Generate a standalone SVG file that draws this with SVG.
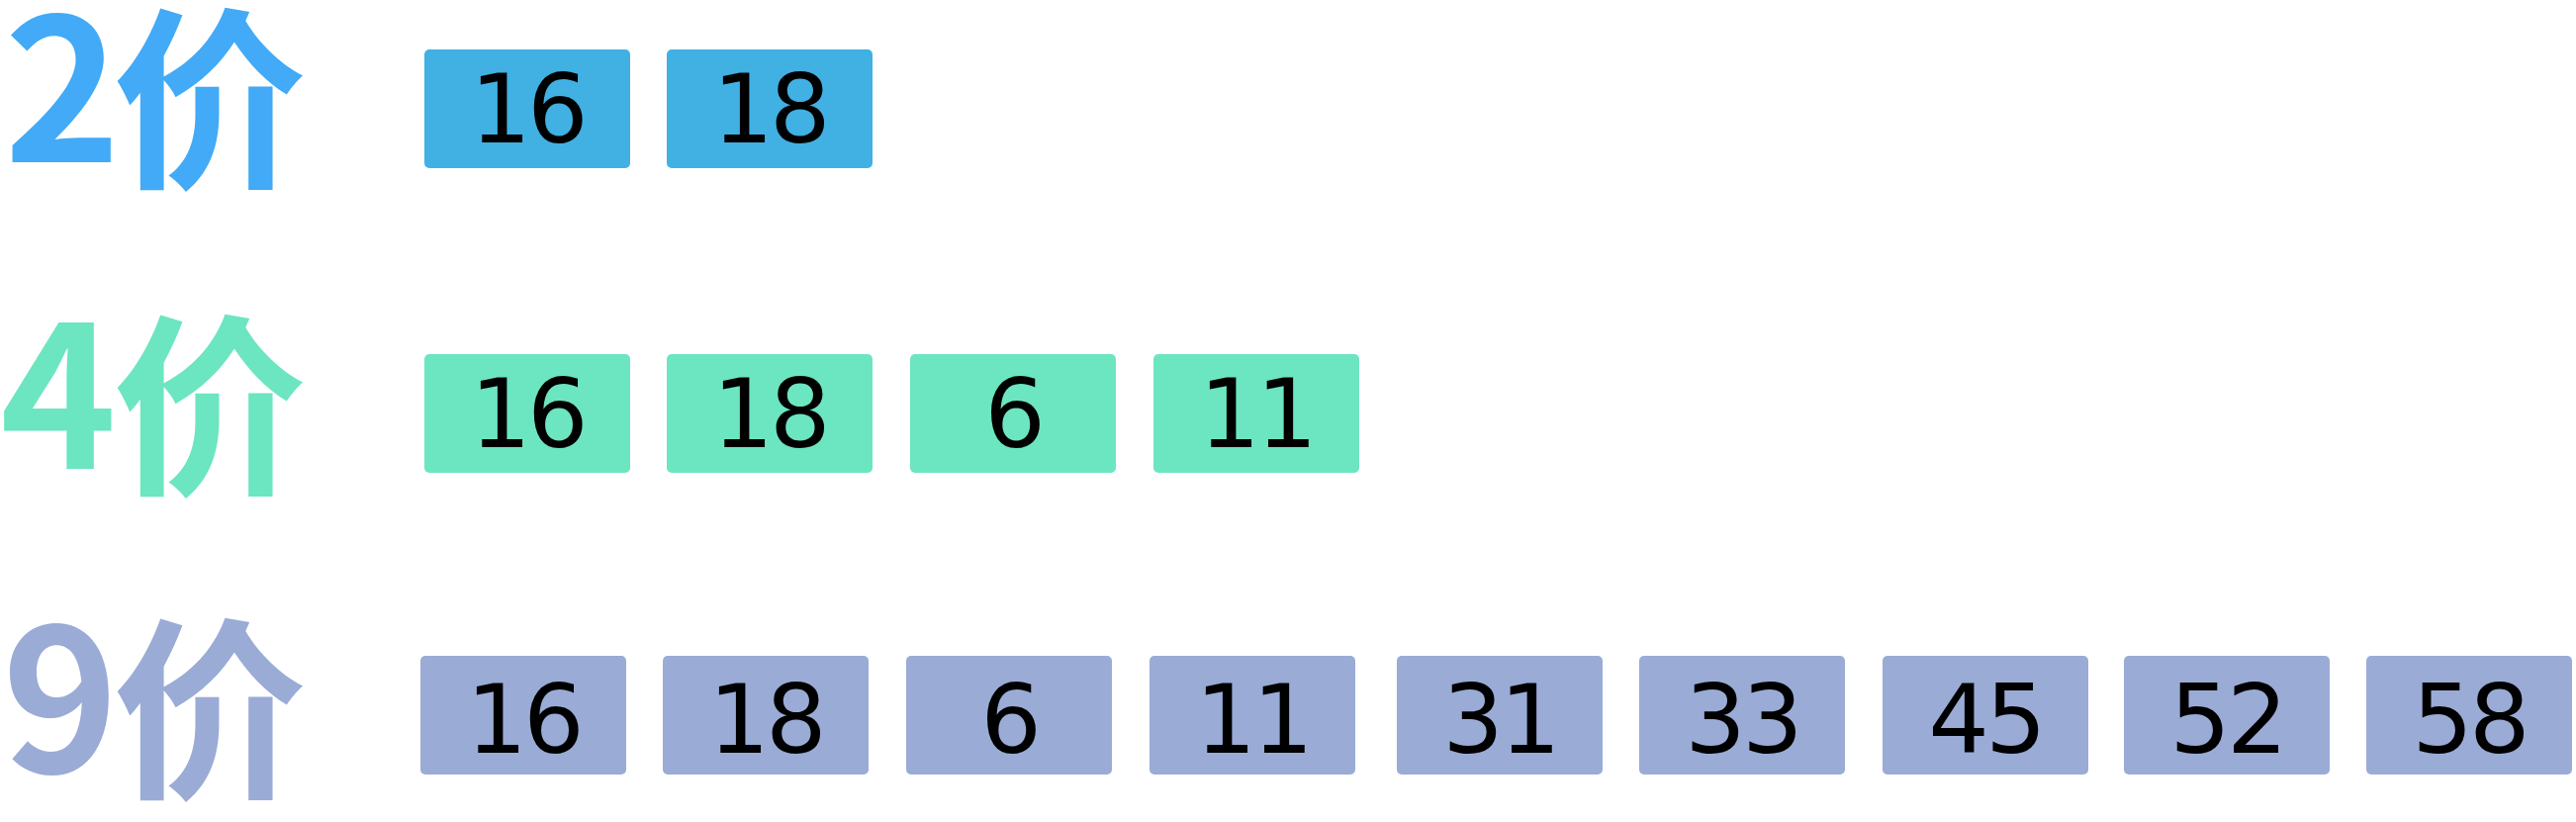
<svg xmlns="http://www.w3.org/2000/svg" width="2604" height="831" viewBox="0 0 2604 831">
<style>
.lbl{font-family:"Noto Sans CJK SC","Microsoft YaHei",sans-serif;font-weight:700;}
.num{font-family:"DejaVu Sans",sans-serif;font-size:97px;fill:#000;text-anchor:middle;letter-spacing:-4px;}
.b1{fill:#41B0E3;}
.b2{fill:#6CE5C1;}
.b3{fill:#9AABD6;}
</style>
<rect width="2604" height="831" fill="#fff"/>
<g id="label-2">
<text class="lbl" fill="#42AAF6"><tspan x="4" y="164" font-size="200">2</tspan><tspan x="114" y="174" font-size="196">价</tspan></text>
</g>
<g id="label-4">
<text class="lbl" fill="#6CE5C1"><tspan x="0" y="474" font-size="200">4</tspan><tspan x="114" y="484" font-size="196">价</tspan></text>
</g>
<g id="label-9">
<text class="lbl" fill="#9AABD6"><tspan x="2" y="781" font-size="200">9</tspan><tspan x="114" y="791" font-size="196">价</tspan></text>
</g>
<g id="r1-16"><rect class="b1" x="429" y="50" width="208" height="120" rx="5"/><text class="num" x="533" y="144">16</text></g>
<g id="r1-18"><rect class="b1" x="674" y="50" width="208" height="120" rx="5"/><text class="num" x="778" y="144">18</text></g>
<g id="r2-16"><rect class="b2" x="429" y="358" width="208" height="120" rx="5"/><text class="num" x="533" y="452">16</text></g>
<g id="r2-18"><rect class="b2" x="674" y="358" width="208" height="120" rx="5"/><text class="num" x="778" y="452">18</text></g>
<g id="r2-6"><rect class="b2" x="920" y="358" width="208" height="120" rx="5"/><text class="num" x="1024" y="452">6</text></g>
<g id="r2-11"><rect class="b2" x="1166" y="358" width="208" height="120" rx="5"/><text class="num" x="1270" y="452">11</text></g>
<g id="r3-16"><rect class="b3" x="425" y="663" width="208" height="120" rx="5"/><text class="num" x="529" y="761">16</text></g>
<g id="r3-18"><rect class="b3" x="670" y="663" width="208" height="120" rx="5"/><text class="num" x="774" y="761">18</text></g>
<g id="r3-6"><rect class="b3" x="916" y="663" width="208" height="120" rx="5"/><text class="num" x="1020" y="761">6</text></g>
<g id="r3-11"><rect class="b3" x="1162" y="663" width="208" height="120" rx="5"/><text class="num" x="1266" y="761">11</text></g>
<g id="r3-31"><rect class="b3" x="1412" y="663" width="208" height="120" rx="5"/><text class="num" x="1516" y="761">31</text></g>
<g id="r3-33"><rect class="b3" x="1657" y="663" width="208" height="120" rx="5"/><text class="num" x="1761" y="761">33</text></g>
<g id="r3-45"><rect class="b3" x="1903" y="663" width="208" height="120" rx="5"/><text class="num" x="2007" y="761">45</text></g>
<g id="r3-52"><rect class="b3" x="2147" y="663" width="208" height="120" rx="5"/><text class="num" x="2251" y="761">52</text></g>
<g id="r3-58"><rect class="b3" x="2392" y="663" width="208" height="120" rx="5"/><text class="num" x="2496" y="761">58</text></g>
<g id="connectors"></g>
</svg>
